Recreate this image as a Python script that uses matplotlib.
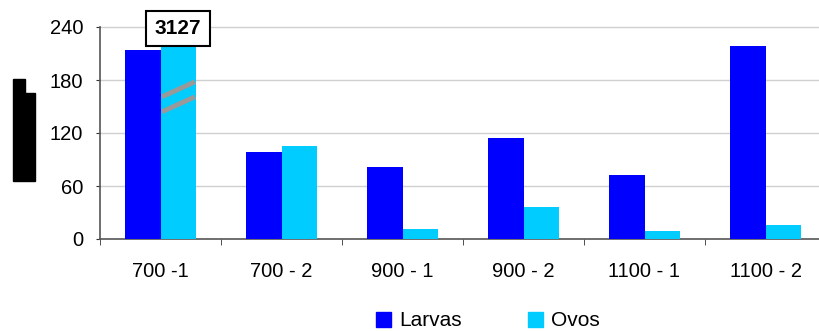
import numpy as np
import matplotlib.pyplot as plt
from matplotlib.patches import Patch, Polygon

plt.rcParams['font.family'] = ['Liberation Sans', 'DejaVu Sans']

categories = ['700 -1', '700 - 2', '900 - 1', '900 - 2', '1100 - 1', '1100 - 2']
larvas = [214, 98, 82, 114, 73, 219]
ovos = [3127, 105, 11, 36, 9, 16]
ovos_cap = 218  # broken bar is drawn only up to here
y_ticks = [0, 60, 120, 180, 240]

c_larvas = '#0000FF'
c_ovos = '#00CCFF'

fig = plt.figure(figsize=(8.19, 3.31), dpi=100)
ax = fig.add_axes([100 / 819, 1 - 239 / 331, 726 / 819, 212 / 331])

x = np.arange(len(categories))
w = 0.29
ax.bar(x - w / 2, larvas, w, color=c_larvas, zorder=3)
ax.bar(x + w / 2, np.minimum(ovos, ovos_cap), w, color=c_ovos, zorder=3)

ax.set_xlim(-0.5, len(categories) - 0.5)
ax.set_ylim(0, 240)
ax.set_yticks(y_ticks)
ax.set_yticklabels([str(t) for t in y_ticks], fontsize=14.5)
ax.set_xticks(x)
ax.set_xticklabels(categories, fontsize=14.5)
ax.set_xticks(np.arange(-0.5, len(categories)), minor=True)
ax.tick_params(axis='x', which='major', length=0, pad=16.5)
ax.tick_params(axis='x', which='minor', length=4, direction='out', color='#333333')
ax.tick_params(axis='y', length=3, direction='out', color='#333333', pad=9)

for v in y_ticks[1:]:
    ax.axhline(v, color='#D0D0D0', lw=1, zorder=1, clip_on=False)

for side in ['top', 'right']:
    ax.spines[side].set_visible(False)
for side in ['left', 'bottom']:
    ax.spines[side].set_color('#555555')
    ax.spines[side].set_linewidth(1.2)

# break marks across the oversized Ovos bar
for y0, y1 in [(161, 178), (144, 161)]:
    ax.plot([0.012, 0.285], [y0, y1], color='#999999', lw=3.5, zorder=4, solid_capstyle='butt')

ax.text(w / 2, 238.3, str(ovos[0]), ha='center', va='center', fontsize=15, fontweight='bold',
        zorder=5, clip_on=False,
        bbox=dict(boxstyle='square,pad=0.4', fc='white', ec='black', lw=1.5))

# black block left of the y axis
fig.patches.append(Polygon(
    [(13 / 819, 1 - 79 / 331), (25 / 819, 1 - 79 / 331), (25 / 819, 1 - 93 / 331),
     (35 / 819, 1 - 93 / 331), (35 / 819, 1 - 181 / 331), (13 / 819, 1 - 181 / 331)],
    closed=True, transform=fig.transFigure, color='black'))

handles = [Patch(color=c_larvas, label='Larvas'), Patch(color=c_ovos, label='Ovos')]
fig.legend(handles=handles, loc='center', bbox_to_anchor=(488 / 819, 1 - 321 / 331), ncol=2,
           frameon=False, fontsize=15, handlelength=0.7, handleheight=0.7,
           handletextpad=0.4, columnspacing=3.2, borderpad=0)

fig.savefig('out.png', dpi=100)
